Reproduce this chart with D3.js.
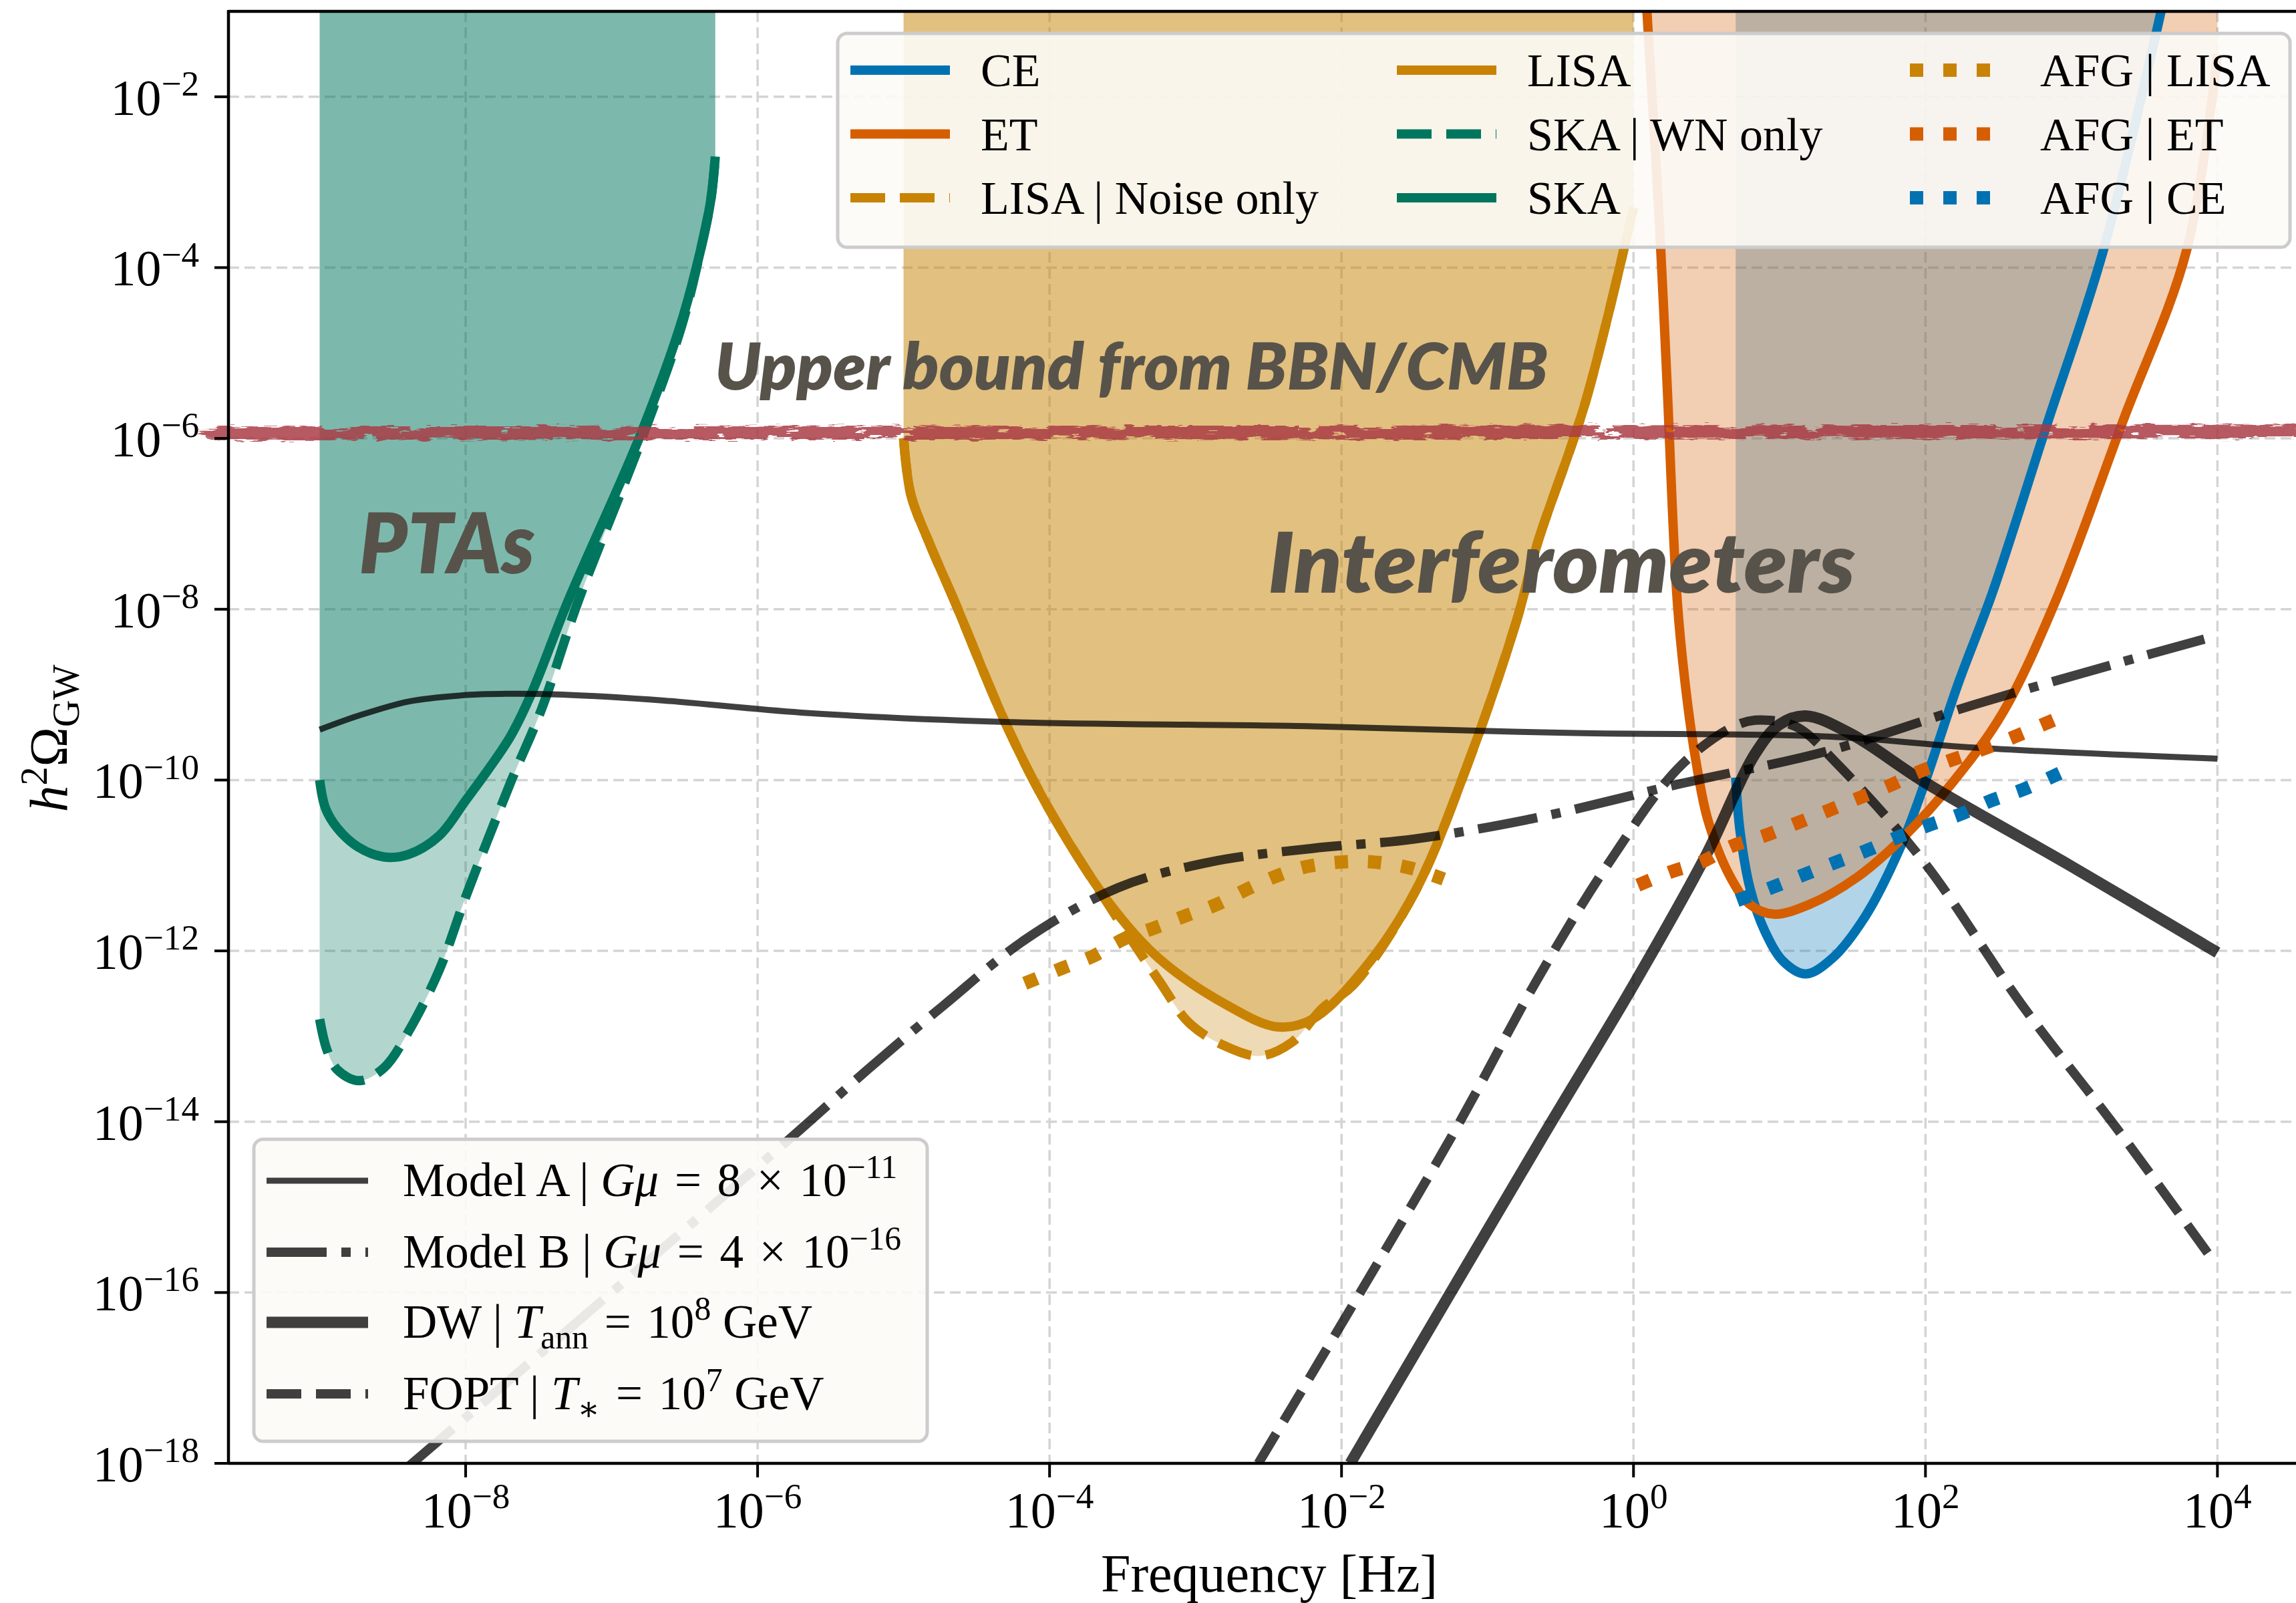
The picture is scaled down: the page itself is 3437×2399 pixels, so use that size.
<!DOCTYPE html>
<html>
<head>
<meta charset="utf-8">
<script src="https://cdn.jsdelivr.net/npm/d3@7"></script>
<style>
  body { margin: 0; background: #fff; }
  svg { display: block; }
  text { white-space: pre; }
</style>
</head>
<body>
<svg id="chart" width="3437" height="2399"></svg>
<script>
// ---- tick positions (powers of ten) ----
const xTickExps = [-8, -6, -4, -2, 0, 2, 4];
const yTickExps = [-18, -16, -14, -12, -10, -8, -6, -4, -2];

// ---- sensitivity curves, pairs of [log10 f / Hz, log10 h^2 Omega] ----
const skaCurve = [[-9.0,-10.0],[-8.96,-10.33],[-8.88,-10.56],[-8.74,-10.78],[-8.56,-10.90],[-8.39,-10.87],
  [-8.18,-10.65],[-8.0,-10.24],[-7.83,-9.84],[-7.69,-9.48],[-7.55,-8.99],[-7.30,-7.91],[-6.81,-5.99],
  [-6.53,-4.68],[-6.39,-3.79],[-6.32,-3.20],[-6.29,-2.70]];
const skaWnCurve = [[-9.0,-12.80],[-8.95,-13.16],[-8.88,-13.39],[-8.73,-13.52],[-8.56,-13.37],[-8.39,-12.94],
  [-8.18,-12.22],[-8.0,-11.37],[-7.69,-10.02],[-7.48,-9.17],[-7.23,-7.91],[-6.79,-5.99],[-6.52,-4.68],
  [-6.39,-3.79],[-6.32,-3.20],[-6.29,-2.70]];
const lisaCurve = [[-5.0,-6.0],[-4.95,-6.66],[-4.82,-7.24],[-4.65,-7.91],[-4.30,-9.34],[-4.02,-10.29],
  [-3.60,-11.42],[-3.25,-12.09],[-2.79,-12.63],[-2.44,-12.89],[-2.20,-12.80],[-1.85,-12.22],[-1.50,-11.32],
  [-1.15,-9.88],[-0.80,-8.13],[-0.66,-7.24],[-0.33,-5.58],[0.0,-3.3]];
const lisaNoiseCurve = [[-5.0,-6.0],[-4.95,-6.66],[-4.82,-7.24],[-4.65,-7.91],[-4.30,-9.34],[-4.02,-10.29],
  [-3.60,-11.45],[-3.25,-12.35],[-3.04,-12.85],[-2.79,-13.12],[-2.56,-13.23],[-2.34,-13.07],[-2.13,-12.67],
  [-1.92,-12.40],[-1.50,-11.32],[-1.15,-9.88],[-0.80,-8.13],[-0.66,-7.24],[-0.33,-5.58],[0.0,-3.3]];
const etCurve = [[0.085,-0.8],[0.18,-3.56],[0.23,-5.36],[0.30,-7.91],[0.365,-9.03],[0.43,-9.80],[0.51,-10.47],
  [0.665,-11.14],[0.80,-11.46],[0.96,-11.57],[1.20,-11.46],[1.53,-11.14],[1.86,-10.65],[2.19,-10.02],
  [2.53,-9.21],[2.89,-7.91],[3.35,-5.81],[3.79,-3.79],[4.0,-1.5]];
const ceCurve = [[0.70,-9.97],[0.73,-10.60],[0.80,-11.28],[0.90,-11.77],[1.03,-12.13],[1.18,-12.27],
  [1.36,-12.09],[1.59,-11.59],[1.83,-10.78],[1.99,-10.06],[2.22,-8.89],[2.46,-7.80],[2.82,-5.90],
  [3.22,-3.79],[3.64,-0.8]];

// ---- astrophysical foreground estimates ----
const afgLisa = [[-4.17,-12.38],[-3.91,-12.20],[-3.70,-12.06],[-3.49,-11.86],[-3.28,-11.73],[-3.07,-11.59],
  [-2.86,-11.46],[-2.65,-11.28],[-2.44,-11.12],[-2.23,-11.01],[-2.00,-10.96],[-1.78,-10.96],[-1.53,-11.03],
  [-1.30,-11.16]];
const afgEt = [[0.03,-11.23],[0.265,-11.07],[0.465,-10.96],[0.665,-10.78],[0.90,-10.65],[1.11,-10.51],
  [1.33,-10.36],[1.53,-10.22],[1.76,-10.06],[1.96,-9.90],[2.17,-9.77],[2.39,-9.64],[2.60,-9.50],
  [2.82,-9.34],[3.0,-9.21]];
const afgCe = [[0.71,-11.41],[0.96,-11.25],[1.18,-11.10],[1.39,-10.96],[1.59,-10.83],[1.81,-10.67],
  [2.02,-10.53],[2.24,-10.40],[2.45,-10.24],[2.67,-10.11],[2.92,-9.92]];

// ---- signal spectra ----
const modelA = [[-9.0,-9.41],[-8.74,-9.25],[-8.39,-9.08],[-8.04,-9.01],[-7.72,-8.99],[-7.34,-9.00],
  [-6.64,-9.07],[-5.70,-9.21],[-4.30,-9.32],[-2.20,-9.37],[-0.40,-9.45],[1.33,-9.49],[2.33,-9.62],[4.0,-9.75]];
const modelB = [[-8.40,-18.05],[-5.76,-14.17],[-5.24,-13.38],[-4.72,-12.63],[-4.16,-11.86],[-3.53,-11.26],
  [-2.90,-10.96],[-2.20,-10.80],[-1.50,-10.69],[-0.66,-10.44],[0.33,-10.04],[1.33,-9.66],[2.33,-9.12],
  [3.32,-8.63],[3.91,-8.35]];
const dwCurve = [[-1.94,-18.0],[-0.62,-14.17],[0.0,-12.40],[0.50,-10.87],[0.83,-9.70],[1.0,-9.35],
  [1.18,-9.25],[1.49,-9.46],[1.99,-10.02],[2.99,-11.0],[4.0,-12.02]];
const foptCurve = [[-2.57,-18.0],[-1.245,-14.17],[-0.664,-12.35],[-0.165,-10.96],[0.33,-9.82],[0.73,-9.34],
  [0.93,-9.30],[1.13,-9.39],[1.39,-9.80],[1.99,-10.96],[2.66,-12.63],[3.32,-14.10],[3.96,-15.6]];

// BBN/CMB upper bound level and the frequency span of its marker
const bbnLevel = 1.15e-6;
const bbnSpan = [1.5e-10, 2e5];

// ---- colours ----
const C = { ce: '#0072B2', et: '#D55E00', lisa: '#C88305', ska: '#00765E', model: '#000000', text: '#57534A' };

// ---- layout ----
const W = 3437, H = 2399;
const plot = { left: 342, top: 17, bottom: 2190, right: 3451 };
const x = d3.scaleLog().domain([Math.pow(10, -9.6247), Math.pow(10, 4.6023)]).range([plot.left, plot.right]);
const y = d3.scaleLog().domain([1e-18, 1e-1]).range([plot.bottom, plot.top]);

const svg = d3.select('#chart');
const defs = svg.append('defs');
defs.append('clipPath').attr('id', 'plotClip').append('rect')
  .attr('x', plot.left).attr('y', plot.top)
  .attr('width', plot.right - plot.left).attr('height', plot.bottom - plot.top);

const rough = defs.append('filter').attr('id', 'rough')
  .attr('x', '-2%').attr('y', '-400%').attr('width', '104%').attr('height', '900%');
rough.append('feTurbulence').attr('type', 'fractalNoise').attr('baseFrequency', '0.04 0.35')
  .attr('numOctaves', 2).attr('seed', 7).attr('result', 'noise');
rough.append('feDisplacementMap').attr('in', 'SourceGraphic').attr('in2', 'noise')
  .attr('scale', 12).attr('xChannelSelector', 'R').attr('yChannelSelector', 'G');

const P = d => [x(Math.pow(10, d[0])), y(Math.pow(10, d[1]))];
const curve = d3.curveCatmullRom.alpha(0.5);
const line = d3.line().x(d => P(d)[0]).y(d => P(d)[1]).curve(curve);
const areaAbove = d3.area().x(d => P(d)[0]).y0(plot.top - 60).y1(d => P(d)[1]).curve(curve);

// ---- grid ----
const grid = svg.append('g').attr('stroke', '#d4d4d4').attr('stroke-width', 3.5).attr('stroke-dasharray', '16 8');
xTickExps.forEach(e => grid.append('line')
  .attr('x1', x(Math.pow(10, e))).attr('x2', x(Math.pow(10, e))).attr('y1', plot.top).attr('y2', plot.bottom));
yTickExps.forEach(e => grid.append('line')
  .attr('y1', y(Math.pow(10, e))).attr('y2', y(Math.pow(10, e))).attr('x1', plot.left).attr('x2', W));

const main = svg.append('g').attr('clip-path', 'url(#plotClip)');

// ---- detectable regions ----
const fills = main.append('g');
[[skaWnCurve, C.ska], [skaCurve, C.ska], [lisaNoiseCurve, C.lisa], [lisaCurve, C.lisa], [ceCurve, C.ce], [etCurve, C.et]]
  .forEach(([d, c]) => fills.append('path').attr('d', areaAbove(d)).attr('fill', c).attr('fill-opacity', 0.3));

// ---- sensitivity curves ----
function drawLine(g, d, color, width, dash, opacity) {
  return g.append('path').attr('d', line(d)).attr('fill', 'none').attr('stroke', color)
    .attr('stroke-width', width).attr('stroke-dasharray', dash || null)
    .attr('stroke-opacity', opacity == null ? 1 : opacity).attr('stroke-linejoin', 'round');
}
const sens = main.append('g');
drawLine(sens, skaWnCurve, C.ska, 14, '52 22');
drawLine(sens, skaCurve, C.ska, 14);
drawLine(sens, lisaNoiseCurve, C.lisa, 14, '52 22');
drawLine(sens, lisaCurve, C.lisa, 14);
drawLine(sens, ceCurve, C.ce, 14);
drawLine(sens, etCurve, C.et, 14);

// ---- signal models ----
const sig = main.append('g');
drawLine(sig, modelA, C.model, 9, null, 0.75);
drawLine(sig, modelB, C.model, 14, '90 22 14 22', 0.75);
drawLine(sig, dwCurve, C.model, 17, null, 0.75);
drawLine(sig, foptCurve, C.model, 14, '52 22', 0.75);

// ---- foregrounds ----
const afg = main.append('g');
drawLine(afg, afgLisa, C.lisa, 20, '20 30');
drawLine(afg, afgEt, C.et, 20, '20 30');
drawLine(afg, afgCe, C.ce, 20, '20 30');

// ---- BBN/CMB bound, drawn as a rough brush stroke of several streaks ----
const yb = y(bbnLevel), xb0 = x(bbnSpan[0]), xb1 = x(bbnSpan[1]);
const band = svg.append('g').attr('opacity', 0.84).attr('filter', 'url(#rough)')
  .attr('stroke', '#AA3A45').attr('fill', 'none');
const streaks = [
  { dy: -7, w: 6, dash: '160 40 90 25 260 30 60 50 310 20', x0: 25 },
  { dy: -2, w: 7, dash: '300 12 140 8 420 16 90 10 200 14', x0: 0 },
  { dy: 3, w: 7, dash: '240 10 380 18 120 9 260 22', x0: 8 },
  { dy: 8, w: 5, dash: '220 30 80 45 140 20 300 35 110 60', x0: 15 }
];
streaks.forEach(s => band.append('line')
  .attr('x1', xb0 + s.x0).attr('x2', xb1).attr('y1', yb + s.dy).attr('y2', yb + s.dy - 3)
  .attr('stroke-width', s.w).attr('stroke-dasharray', s.dash));

// ---- region annotations ----
const notes = [
  { t: 'PTAs', f: -8.73, v: -7.58, size: 126, len: 263 },
  { t: 'Interferometers', f: -2.503, v: -7.81, size: 126, len: 879 },
  { t: 'Upper bound from BBN/CMB', f: -6.293, v: -5.43, size: 96, len: 1247 }
];
notes.forEach(n => svg.append('text').attr('x', P([n.f, n.v])[0]).attr('y', P([n.f, n.v])[1])
  .attr('font-family', 'Lato, "Open Sans", sans-serif').attr('font-weight', 800).attr('font-style', 'italic')
  .attr('font-size', n.size).attr('fill', C.text)
  .attr('textLength', n.len).attr('lengthAdjust', 'spacingAndGlyphs').text(n.t));

// ---- rich text helper (super/subscripts) ----
function rich(g, px, py, parts, size, anchor) {
  const t = g.append('text').attr('x', px).attr('y', py).attr('font-size', size)
    .attr('font-family', '"Liberation Serif", "DejaVu Serif", serif')
    .attr('text-anchor', anchor || 'start').attr('fill', '#000');
  let shift = 0;
  parts.forEach(p => {
    let target = 0, fs = size;
    if (p.sup) { target = -size * 0.38; fs = size * 0.70; }
    if (p.sub) { target = size * 0.22; fs = size * 0.70; }
    const s = t.append('tspan').attr('dy', target - shift).attr('font-size', fs).text(p.t);
    if (p.it) s.attr('font-style', 'italic');
    shift = target;
  });
  return t;
}

// ---- axes ----
const axes = svg.append('g');
axes.append('line').attr('x1', plot.left).attr('x2', plot.left).attr('y1', plot.top - 2).attr('y2', plot.bottom + 2)
  .attr('stroke', '#000').attr('stroke-width', 4.5);
axes.append('line').attr('x1', plot.left).attr('x2', W).attr('y1', plot.bottom).attr('y2', plot.bottom)
  .attr('stroke', '#000').attr('stroke-width', 4.5);
axes.append('line').attr('x1', plot.left).attr('x2', W).attr('y1', plot.top).attr('y2', plot.top)
  .attr('stroke', '#000').attr('stroke-width', 4.5);

xTickExps.forEach(e => {
  const px = x(Math.pow(10, e));
  axes.append('line').attr('x1', px).attr('x2', px).attr('y1', plot.bottom).attr('y2', plot.bottom + 21)
    .attr('stroke', '#000').attr('stroke-width', 4);
  rich(axes, px, 2286, [{ t: '10' }, { t: (e < 0 ? '\u2212' : '') + Math.abs(e), sup: true }], 76, 'middle');
});
yTickExps.forEach(e => {
  const py = y(Math.pow(10, e));
  axes.append('line').attr('x1', plot.left - 21).attr('x2', plot.left).attr('y1', py).attr('y2', py)
    .attr('stroke', '#000').attr('stroke-width', 4);
  rich(axes, 298, py + 27, [{ t: '10' }, { t: '\u2212' + Math.abs(e), sup: true }], 76, 'end');
});

rich(axes, 1900, 2382, [{ t: 'Frequency [Hz]' }], 80, 'middle');
const yl = rich(axes, 0, 0, [{ t: 'h', it: true }, { t: '2', sup: true }, { t: '\u03A9' }, { t: 'GW', sub: true }], 80, 'middle');
yl.attr('transform', 'translate(100,1105) rotate(-90)');

// ---- legends ----
function legendBox(bx, by, bw, bh) {
  svg.append('rect').attr('x', bx).attr('y', by).attr('width', bw).attr('height', bh).attr('rx', 14)
    .attr('fill', '#fdfbf7').attr('fill-opacity', 0.9).attr('stroke', '#cccccc').attr('stroke-width', 5);
}
function handle(g, x0, x1, yy, s) {
  g.append('line').attr('x1', x0).attr('x2', x1).attr('y1', yy).attr('y2', yy)
    .attr('stroke', s.c).attr('stroke-width', s.w).attr('stroke-dasharray', s.dash || null)
    .attr('stroke-opacity', s.o == null ? 1 : s.o);
}

const topLegend = [
  { label: [{ t: 'CE' }], s: { c: C.ce, w: 14 } },
  { label: [{ t: 'ET' }], s: { c: C.et, w: 14 } },
  { label: [{ t: 'LISA | Noise only' }], s: { c: C.lisa, w: 14, dash: '52 22' } },
  { label: [{ t: 'LISA' }], s: { c: C.lisa, w: 14 } },
  { label: [{ t: 'SKA | WN only' }], s: { c: C.ska, w: 14, dash: '52 22' } },
  { label: [{ t: 'SKA' }], s: { c: C.ska, w: 14 } },
  { label: [{ t: 'AFG | LISA' }], s: { c: C.lisa, w: 20, dash: '20 30' } },
  { label: [{ t: 'AFG | ET' }], s: { c: C.et, w: 20, dash: '20 30' } },
  { label: [{ t: 'AFG | CE' }], s: { c: C.ce, w: 20, dash: '20 30' } }
];
legendBox(1254, 50, 2174, 320);
const lg1 = svg.append('g');
const colX = [1273, 2091, 2859], rowY = [105, 200.5, 296];
topLegend.forEach((it, i) => {
  const cx = colX[Math.floor(i / 3)], ry = rowY[i % 3];
  handle(lg1, cx, cx + 149, ry, it.s);
  rich(lg1, cx + 195, ry + 24, it.label, 70);
});

const EQ = '\u2004=\u2004', TIMES = '\u2004\u00D7\u2004';
const modelLegend = [
  { label: [{ t: 'Model A | ' }, { t: 'G\u03BC', it: true }, { t: EQ + '8' + TIMES + '10' }, { t: '\u221211', sup: true }],
    s: { c: C.model, w: 9, o: 0.75 } },
  { label: [{ t: 'Model B | ' }, { t: 'G\u03BC', it: true }, { t: EQ + '4' + TIMES + '10' }, { t: '\u221216', sup: true }],
    s: { c: C.model, w: 14, o: 0.75, dash: '90 22 14 22' } },
  { label: [{ t: 'DW | ' }, { t: 'T', it: true }, { t: 'ann', sub: true }, { t: EQ + '10' }, { t: '8', sup: true }, { t: ' GeV' }],
    s: { c: C.model, w: 17, o: 0.75 } },
  { label: [{ t: 'FOPT | ' }, { t: 'T', it: true }, { t: '\u2217', sub: true }, { t: EQ + '10' }, { t: '7', sup: true }, { t: ' GeV' }],
    s: { c: C.model, w: 14, o: 0.75, dash: '52 22' } }
];
legendBox(380, 1705, 1008, 452);
const lg2 = svg.append('g');
const rowY2 = [1767, 1874, 1979, 2086];
modelLegend.forEach((it, i) => {
  handle(lg2, 399, 551, rowY2[i], it.s);
  rich(lg2, 603, rowY2[i] + 23, it.label, 71);
});
</script>
</body>
</html>
